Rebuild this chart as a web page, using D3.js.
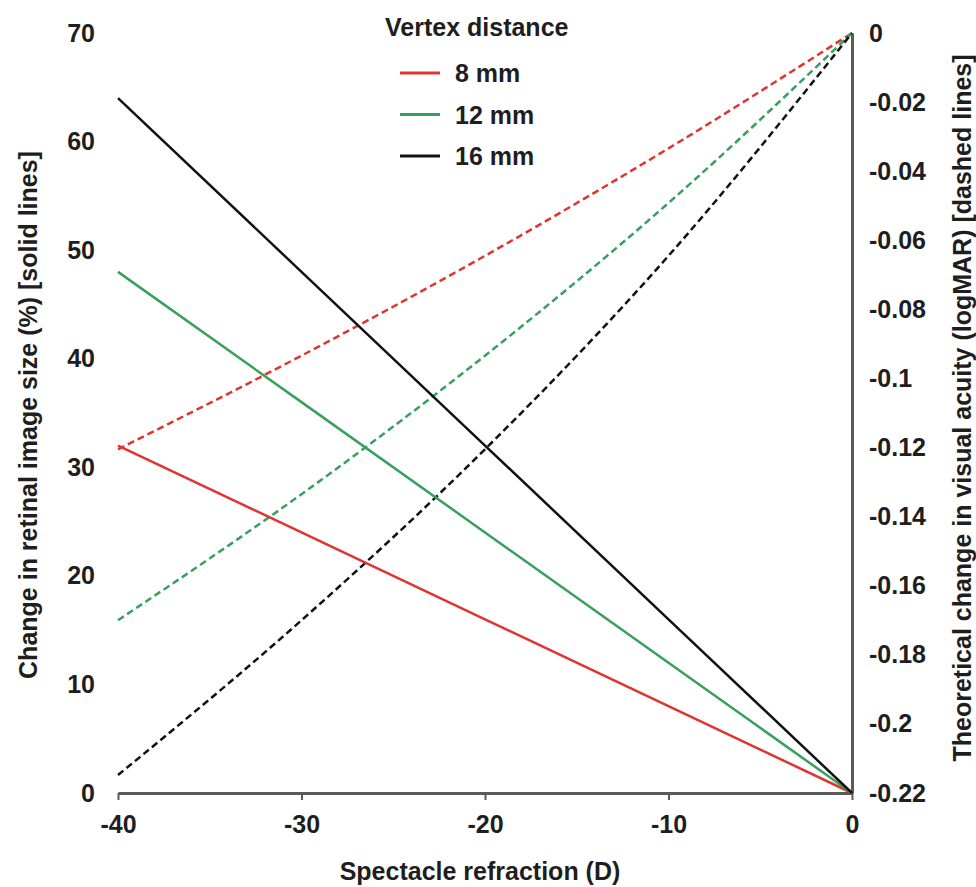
<!DOCTYPE html>
<html>
<head>
<meta charset="utf-8">
<script src="https://cdn.jsdelivr.net/npm/d3@7"></script>
<style>
  body { margin: 0; background: #fff; }
  svg { display: block; font-family: "Liberation Sans", Arial, sans-serif; font-weight: bold; }
</style>
</head>
<body>
<div id="chart"></div>
<script>
// Spectacle refraction (D), read at the tick positions
const refraction = [-40, -30, -20, -10, 0];

// Vertex distances shown in the legend
const vertexLabels = ['8 mm', '12 mm', '16 mm'];
const vertexColors = ['#df3530', '#38a05c', '#111111'];

// Change in retinal image size (%), solid lines, left axis
const sizeChange8 = [32, 24, 16, 8, 0];
const sizeChange12 = [48, 36, 24, 12, 0];
const sizeChange16 = [64, 48, 32, 16, 0];

// Theoretical change in visual acuity (logMAR), dashed lines, right axis
const acuity8 = [-0.1205, -0.0934, -0.0645, -0.0334, 0];
const acuity12 = [-0.170, -0.1335, -0.0934, -0.0492, 0];
const acuity16 = [-0.2148, -0.170, -0.1205, -0.0645, 0];

const leftTicks = [0, 10, 20, 30, 40, 50, 60, 70];
const rightTicks = [0, -0.02, -0.04, -0.06, -0.08, -0.1, -0.12, -0.14, -0.16, -0.18, -0.2, -0.22];
const xTicks = [-40, -30, -20, -10, 0];

const width = 976;
const height = 887;
const margin = { top: 33, right: 124, bottom: 94, left: 118 };
const fontSize = '25px';

// Plain hyphen for negatives, as in the original figure
const fmt = d => String(+(+d).toFixed(2));

const svg = d3.select('#chart')
  .append('svg')
  .attr('width', width)
  .attr('height', height);

const x = d3.scaleLinear().domain([-40, 0]).range([margin.left, width - margin.right]);
const yLeft = d3.scaleLinear().domain([0, 70]).range([height - margin.bottom, margin.top]);
const yRight = d3.scaleLinear().domain([-0.22, 0]).range([height - margin.bottom, margin.top]);

const axisColor = '#5a5a5a';
const textColor = '#1e1e1e';

// Bottom axis
const xAxis = svg.append('g')
  .attr('transform', `translate(0, ${height - margin.bottom})`)
  .call(d3.axisBottom(x).tickValues(xTicks).tickSize(7).tickSizeOuter(0).tickPadding(15).tickFormat(fmt));
xAxis.select('.domain').attr('stroke', axisColor).attr('stroke-width', 3);
xAxis.selectAll('.tick line').attr('stroke', axisColor).attr('stroke-width', 2);
xAxis.selectAll('.tick text').attr('fill', textColor).style('font-size', fontSize).style('font-family', 'inherit');

// Left axis: labels only, no line
const yAxisL = svg.append('g')
  .attr('transform', `translate(${margin.left}, 0)`)
  .call(d3.axisLeft(yLeft).tickValues(leftTicks).tickSize(0).tickPadding(23).tickFormat(fmt));
yAxisL.select('.domain').remove();
yAxisL.selectAll('.tick text').attr('fill', textColor).style('font-size', fontSize).style('font-family', 'inherit');

// Right axis: line, no tick marks
const yAxisR = svg.append('g')
  .attr('transform', `translate(${width - margin.right}, 0)`)
  .call(d3.axisRight(yRight).tickValues(rightTicks).tickSize(0).tickPadding(17).tickFormat(fmt));
yAxisR.select('.domain').attr('stroke', axisColor).attr('stroke-width', 3);
yAxisR.selectAll('.tick text').attr('fill', textColor).style('font-size', fontSize).style('font-family', 'inherit');

// Axis titles
svg.append('text')
  .attr('transform', `translate(37, 415) rotate(-90)`)
  .attr('text-anchor', 'middle')
  .style('font-size', fontSize)
  .attr('fill', textColor)
  .text('Change in retinal image size (%) [solid lines]');

svg.append('text')
  .attr('transform', `translate(971, 408) rotate(-90)`)
  .attr('text-anchor', 'middle')
  .style('font-size', fontSize)
  .attr('fill', textColor)
  .text('Theoretical change in visual acuity (logMAR) [dashed lines]');

svg.append('text')
  .attr('x', 480)
  .attr('y', 880)
  .attr('text-anchor', 'middle')
  .style('font-size', fontSize)
  .attr('fill', textColor)
  .text('Spectacle refraction (D)');

// Lines
const solidSeries = [sizeChange8, sizeChange12, sizeChange16];
const dashedSeries = [acuity8, acuity12, acuity16];

const lineLeft = d3.line().x((d, i) => x(refraction[i])).y(d => yLeft(d));
const lineRight = d3.line().curve(d3.curveMonotoneX).x((d, i) => x(refraction[i])).y(d => yRight(d));

dashedSeries.forEach((s, i) => {
  svg.append('path')
    .attr('d', lineRight(s))
    .attr('fill', 'none')
    .attr('stroke', vertexColors[i])
    .attr('stroke-width', 2.5)
    .attr('stroke-dasharray', '7,4');
});

solidSeries.forEach((s, i) => {
  svg.append('path')
    .attr('d', lineLeft(s))
    .attr('fill', 'none')
    .attr('stroke', vertexColors[i])
    .attr('stroke-width', 2.5);
});

// Legend
const legend = svg.append('g').attr('transform', 'translate(400, 0)');
legend.append('text')
  .attr('x', -15)
  .attr('y', 36)
  .style('font-size', fontSize)
  .attr('fill', textColor)
  .text('Vertex distance');

vertexLabels.forEach((label, i) => {
  const yy = 73 + i * 41.5;
  legend.append('line')
    .attr('x1', 0).attr('x2', 40)
    .attr('y1', yy).attr('y2', yy)
    .attr('stroke', vertexColors[i])
    .attr('stroke-width', 3);
  legend.append('text')
    .attr('x', 55)
    .attr('y', yy + 9)
    .style('font-size', fontSize)
    .attr('fill', textColor)
    .text(label);
});
</script>
</body>
</html>
